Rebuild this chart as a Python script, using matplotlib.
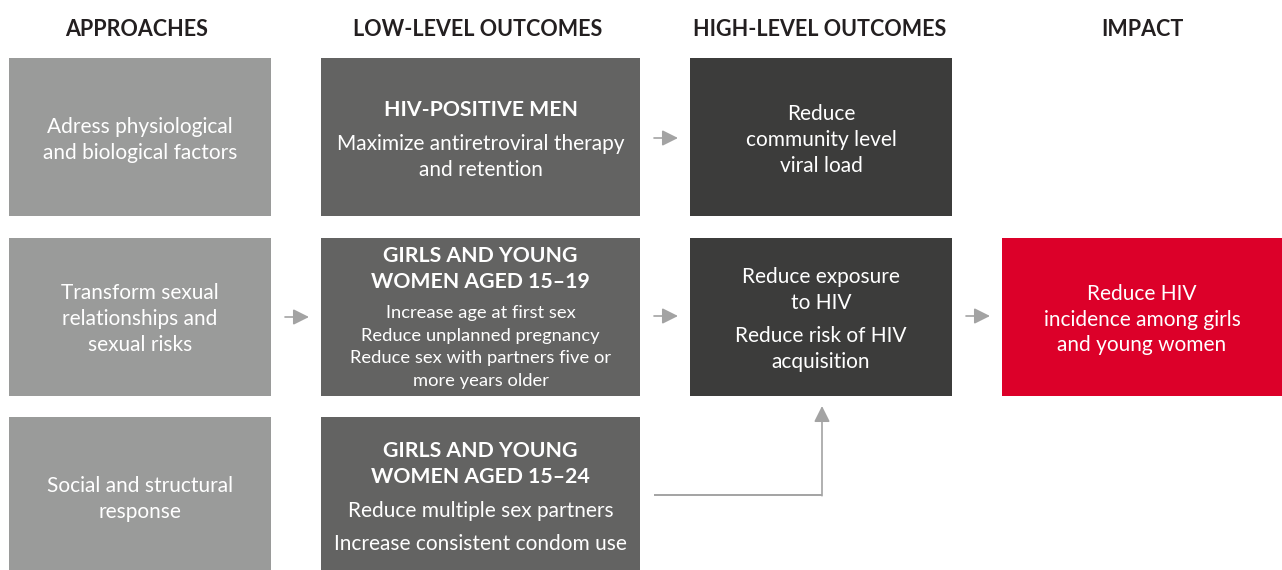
import matplotlib
matplotlib.use("Agg")
import matplotlib.pyplot as plt
from matplotlib.patches import Rectangle, FancyArrowPatch

# ---- data ----
column_headers = ["APPROACHES", "LOW-LEVEL OUTCOMES", "HIGH-LEVEL OUTCOMES", "IMPACT"]

approaches = ["Adress physiological\nand biological factors",
              "Transform sexual\nrelationships and\nsexual risks",
              "Social and structural\nresponse"]

low_titles = ["HIV-POSITIVE MEN",
              "GIRLS AND YOUNG\nWOMEN AGED 15–19",
              "GIRLS AND YOUNG\nWOMEN AGED 15–24"]
low_bodies = [["Maximize antiretroviral therapy\nand retention"],
              ["Increase age at first sex\nReduce unplanned pregnancy\nReduce sex with partners five or\nmore years older"],
              ["Reduce multiple sex partners", "Increase consistent condom use"]]

high_texts = [["Reduce\ncommunity level\nviral load"],
              ["Reduce exposure\nto HIV", "Reduce risk of HIV\nacquisition"]]

impact_text = "Reduce HIV\nincidence among girls\nand young women"

# ---- style ----
C_APP = "#9a9b9a"
C_LOW = "#636362"
C_HIGH = "#3c3c3b"
C_RED = "#dc0029"
C_ARROW = "#a3a3a3"
FONT = "Lato"

W, H = 1282, 570
fig = plt.figure(figsize=(W / 100, H / 100), dpi=100)
ax = fig.add_axes([0, 0, 1, 1])
ax.set_xlim(0, W)
ax.set_ylim(H, 0)
ax.axis("off")

cols = [(9, 271), (321, 640), (690, 952), (1002, 1282)]
rows = [(58, 216), (238, 396), (417, 570)]

def box(col, row, color):
    x0, x1 = cols[col]
    y0, y1 = rows[row]
    ax.add_patch(Rectangle((x0, y0), x1 - x0, y1 - y0, facecolor=color, edgecolor="none"))

def txt(x, y, s, size, weight="normal", ls=1.36):
    ax.text(x, y + 2, s, ha="center", va="center", color="white", fontsize=size,
            fontweight=weight, family=FONT, linespacing=ls)

# headers
header_x = [137, 478, 820, 1142]
for hx, h in zip(header_x, column_headers):
    ax.text(hx, 29, h, ha="center", va="center", color="#231f20", fontsize=15.5,
            fontweight="bold", family=FONT)

# column 1
app_y = [138, 317, 497]
for r, (t, y) in enumerate(zip(approaches, app_y)):
    box(0, r, C_APP)
    txt((cols[0][0] + cols[0][1]) / 2, y, t, 15)

# column 2
cx2 = (cols[1][0] + cols[1][1]) / 2
for r in range(3):
    box(1, r, C_LOW)
# row 1
txt(cx2, 108, low_titles[0], 15.3, "bold")
txt(cx2, 155, low_bodies[0][0], 15)
# row 2
txt(cx2, 267, low_titles[1], 15.3, "bold", ls=1.42)
txt(cx2, 345, low_bodies[1][0], 13.2, ls=1.5)
# row 3
txt(cx2, 462, low_titles[2], 15.3, "bold", ls=1.42)
txt(cx2, 509, low_bodies[2][0], 15)
txt(cx2, 542, low_bodies[2][1], 15)

# column 3
cx3 = (cols[2][0] + cols[2][1]) / 2
box(2, 0, C_HIGH)
box(2, 1, C_HIGH)
txt(cx3, 138, high_texts[0][0], 15)
txt(cx3, 288, high_texts[1][0], 15)
txt(cx3, 347, high_texts[1][1], 15)

# column 4
box(3, 1, C_RED)
txt((cols[3][0] + cols[3][1]) / 2, 317.5, impact_text, 15)

# arrows
def arrow(x0, y0, x1, y1):
    ax.add_patch(FancyArrowPatch((x0, y0), (x1, y1), arrowstyle="-|>,head_length=6,head_width=3",
                                 color=C_ARROW, lw=1.2, mutation_scale=1.6, shrinkA=0, shrinkB=0))

arrow(285, 317, 309, 317)
arrow(654, 138, 678, 138)
arrow(654, 316, 678, 316)
arrow(966, 316, 990, 316)
# elbow connector
ax.plot([654, 822], [495, 495], color=C_ARROW, lw=1.4, solid_capstyle="butt")
arrow(822, 495.7, 822, 406)

fig.savefig("out.png", dpi=100)
